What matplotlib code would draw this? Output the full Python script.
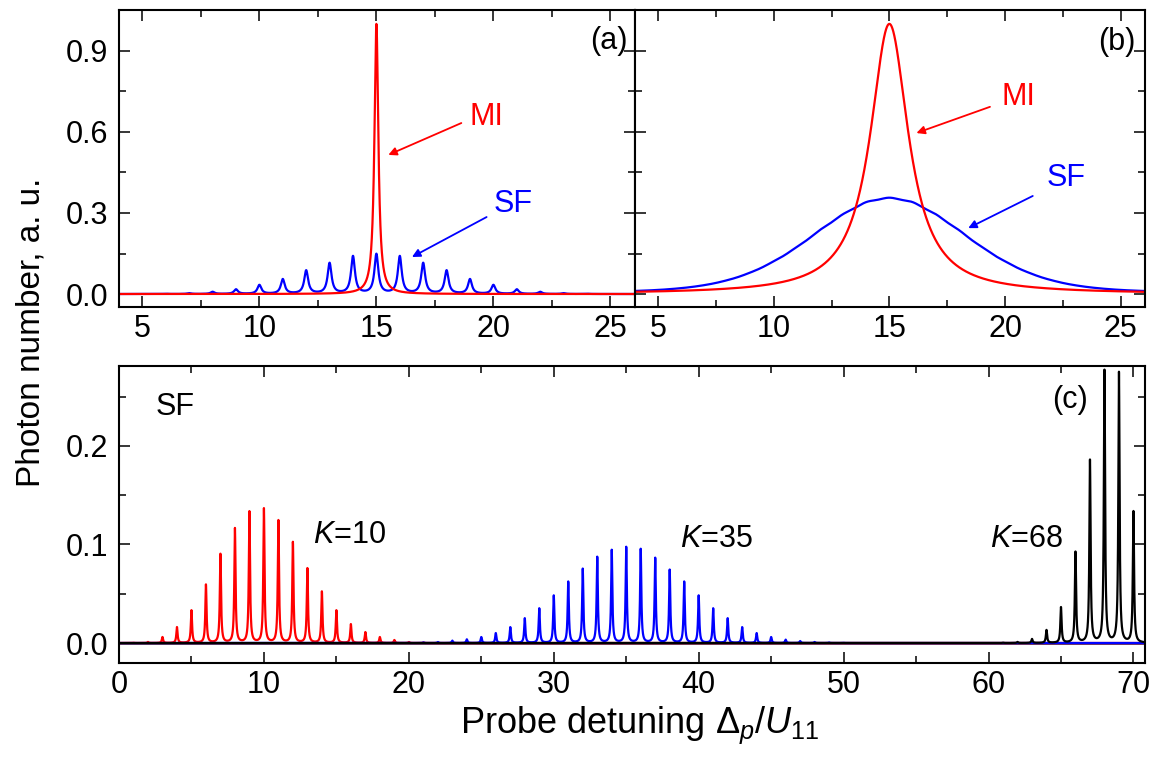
import numpy as np
import matplotlib
matplotlib.use("Agg")
import matplotlib.pyplot as plt
from matplotlib.ticker import MultipleLocator, FormatStrFormatter

plt.rcParams['font.family'] = ['Liberation Sans', 'DejaVu Sans']
plt.rcParams['mathtext.fontset'] = 'custom'
plt.rcParams['mathtext.rm'] = 'Liberation Sans'
plt.rcParams['mathtext.it'] = 'Liberation Sans:italic'
plt.rcParams['mathtext.bf'] = 'Liberation Sans:bold'

# ---------------- data ----------------
# panels (a),(b): SF comb (peak positions / heights) and MI single line
top_peak_pos = [6, 7, 8, 9, 10, 11, 12, 13, 14, 15, 16, 17, 18, 19, 20, 21, 22, 23, 24]
top_sf_heights = [0.001, 0.003, 0.008, 0.017, 0.033, 0.054, 0.086, 0.113, 0.138, 0.146,
                  0.138, 0.113, 0.086, 0.054, 0.033, 0.017, 0.008, 0.003, 0.001]
mi_pos = [15]
mi_height = [1.0]
linewidth_a = 0.1   # line half-width in panel (a)
linewidth_b = 1.0   # line half-width in panel (b)

# panel (c): SF spectra for K=10, 35, 68
k10_pos = [1, 2, 3, 4, 5, 6, 7, 8, 9, 10, 11, 12, 13, 14, 15, 16, 17, 18, 19, 20, 21]
k10_heights = [0.0003, 0.001, 0.006, 0.016, 0.033, 0.059, 0.090, 0.116, 0.133, 0.136,
               0.124, 0.102, 0.0755, 0.052, 0.033, 0.019, 0.011, 0.006, 0.003, 0.001, 0.0004]
k35_pos = list(range(20, 51))
k35_heights = [0.0003, 0.0006, 0.001, 0.0024, 0.0037, 0.006, 0.010, 0.016, 0.025, 0.035,
               0.048, 0.062, 0.075, 0.087, 0.094, 0.097, 0.095, 0.086, 0.074, 0.062,
               0.048, 0.035, 0.025, 0.016, 0.010, 0.006, 0.0034, 0.002, 0.001, 0.0005, 0.0002]
k68_pos = [61, 62, 63, 64, 65, 66, 67, 68, 69, 70]
k68_heights = [0.0003, 0.001, 0.004, 0.013, 0.036, 0.092, 0.185, 0.276, 0.274, 0.133]
linewidth_c = 0.05


def spectrum(x, pos, heights, g):
    y = np.zeros_like(x)
    for p, h in zip(pos, heights):
        y += h * g**2 / ((x - p)**2 + g**2)
    return y


# ---------------- figure ----------------
fig = plt.figure(figsize=(11.53, 7.58), dpi=100)
axa = fig.add_axes([0.1032, 0.595, 0.4475, 0.392])
axb = fig.add_axes([0.5507, 0.595, 0.4423, 0.392])
axc = fig.add_axes([0.1032, 0.1253, 0.8899, 0.3919])

RED = '#ff0000'
BLUE = '#0000ff'
LW = 1.6

xt = np.arange(4.0, 26.0001, 0.002)
axa.plot(xt, spectrum(xt, top_peak_pos, top_sf_heights, linewidth_a), color=BLUE, lw=LW)
axa.plot(xt, spectrum(xt, mi_pos, mi_height, linewidth_a), color=RED, lw=LW)
axb.plot(xt, spectrum(xt, top_peak_pos, top_sf_heights, linewidth_b), color=BLUE, lw=LW)
axb.plot(xt, spectrum(xt, mi_pos, mi_height, linewidth_b), color=RED, lw=LW)

xc = np.arange(0.0, 71.0, 0.004)
axc.axhline(0, color='#3a0a30', lw=1.8, zorder=1)
axc.plot(xc, spectrum(xc, k10_pos, k10_heights, linewidth_c), color=RED, lw=LW)
axc.plot(xc, spectrum(xc, k35_pos, k35_heights, linewidth_c), color=BLUE, lw=LW)
axc.plot(xc, spectrum(xc, k68_pos, k68_heights, linewidth_c), color='black', lw=LW)

for ax in (axa, axb):
    ax.set_xlim(4, 26.05)
    ax.set_ylim(-0.048, 1.052)
    ax.xaxis.set_major_locator(MultipleLocator(5))
    ax.xaxis.set_minor_locator(MultipleLocator(2.5))
    ax.yaxis.set_major_locator(MultipleLocator(0.3))
    ax.yaxis.set_minor_locator(MultipleLocator(0.15))
    ax.yaxis.set_major_formatter(FormatStrFormatter('%.1f'))
axb.tick_params(axis='y', labelleft=False)

axc.set_xlim(0, 70.8)
axc.set_ylim(-0.0203, 0.281)
axc.xaxis.set_major_locator(MultipleLocator(10))
axc.xaxis.set_minor_locator(MultipleLocator(5))
axc.yaxis.set_major_locator(MultipleLocator(0.1))
axc.yaxis.set_minor_locator(MultipleLocator(0.05))
axc.yaxis.set_major_formatter(FormatStrFormatter('%.1f'))

for ax in (axa, axb, axc):
    for s in ax.spines.values():
        s.set_linewidth(1.5)
    ax.tick_params(which='both', direction='in', top=True, right=True, width=1.1)
    ax.tick_params(which='major', length=8, labelsize=22, pad=5)
    ax.tick_params(which='minor', length=5)
    ax.tick_params(axis='y', which='major', pad=8)

# annotations
arrow_red = dict(arrowstyle='-|>', color=RED, lw=1.3, mutation_scale=12, shrinkA=0, shrinkB=0)
arrow_blue = dict(arrowstyle='-|>', color=BLUE, lw=1.3, mutation_scale=12, shrinkA=0, shrinkB=0)

axa.annotate('', xy=(15.51, 0.515), xytext=(18.63, 0.633), arrowprops=arrow_red)
axa.text(19.7, 0.656, 'MI', color=RED, fontsize=22, ha='center', va='center')
axa.annotate('', xy=(16.52, 0.137), xytext=(19.71, 0.285), arrowprops=arrow_blue)
axa.text(20.84, 0.333, 'SF', color=BLUE, fontsize=22, ha='center', va='center')
axa.text(24.94, 0.937, '(a)', fontsize=22, ha='center', va='center')

axb.annotate('', xy=(16.17, 0.596), xytext=(19.35, 0.693), arrowprops=arrow_red)
axb.text(20.57, 0.73, 'MI', color=RED, fontsize=22, ha='center', va='center')
axb.annotate('', xy=(18.41, 0.244), xytext=(21.2, 0.363), arrowprops=arrow_blue)
axb.text(22.64, 0.43, 'SF', color=BLUE, fontsize=22, ha='center', va='center')
axb.text(24.84, 0.933, '(b)', fontsize=22, ha='center', va='center')

axc.text(3.9, 0.239, 'SF', fontsize=22, ha='center', va='center')
axc.text(65.6, 0.246, '(c)', fontsize=22, ha='center', va='center')
axc.text(15.9, 0.11, r'$K$=10', fontsize=22, ha='center', va='center')
axc.text(41.2, 0.105, r'$K$=35', fontsize=22, ha='center', va='center')
axc.text(62.6, 0.105, r'$K$=68', fontsize=22, ha='center', va='center')

fig.text(0.027, 1 - 332 / 758, 'Photon number, a. u.', rotation=90, fontsize=24,
         ha='center', va='center')
fig.text(0.555, 1 - 733 / 758, r'Probe detuning $\Delta_p/U_{11}$', fontsize=26,
         ha='center', va='baseline')

fig.savefig('out.png', dpi=100)
